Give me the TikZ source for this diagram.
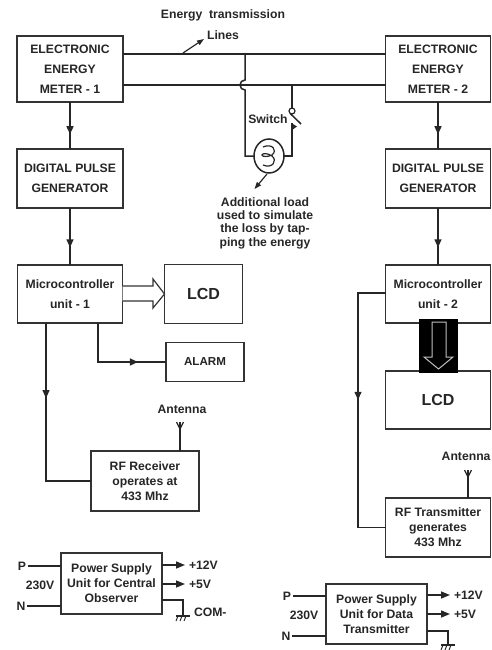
\documentclass[tikz,border=0pt]{standalone}
\usepackage{fontspec}
\setmainfont{Liberation Sans}
\usetikzlibrary{positioning, shapes.geometric, arrows.meta, calc, decorations.markings}

\begin{document}
\begin{tikzpicture}[
  x=1pt, y=1pt,
  font=\fontsize{12.2}{20}\selectfont\bfseries,
  node distance=47pt and 43pt,
  blockbox/.style={
    rectangle, draw=black!80, line width=1.5pt, outer sep=0pt, inner sep=0pt,
    minimum width=105pt, minimum height=59pt, align=center, fill=white, text=black!85
  },
  tightbox/.style={blockbox, font=\fontsize{12.2}{15}\selectfont\bfseries},
  label/.style={inner sep=0pt, outer sep=0pt, text=black!85, align=center},
  notetext/.style={label, font=\fontsize{12.2}{13.4}\selectfont\bfseries},
  wire/.style={draw=black!85, line width=1.5pt},
  tipat/.style={postaction={decorate, decoration={markings,
    mark=at position #1 with {\fill[black!85] (4,0) -- (-4,3.7) -- (-4,-3.7) -- cycle;}}}},
  outwire/.style={wire, -{Triangle[length=9pt,width=7pt]}, shorten >=4pt},
  hollow/.style={draw=black!80, line width=1.2pt, fill=white, line join=miter},
  antenna/.pic={
    \draw[wire] (0,0) -- (0,7);
    \draw[wire, line width=1.2pt] (-3.5,7) -- (0,0) -- (3.5,7);
  },
  earth/.pic={
    \draw[wire, line width=1.2pt] (-7,0) -- (7,0);
    \foreach \dx in {-5,-1,3} {
      \draw[wire, line width=1pt] (\dx,0) -- (\dx-2,-5);
    }
  }
]
\useasboundingbox (0,0) rectangle (491,-650);

% left column
\node[blockbox, minimum height=66pt, minimum width=106pt] (meterone) at (70,-69) {ELECTRONIC\\ ENERGY\\ METER - 1};
\node[blockbox, minimum width=106pt, below=47pt of meterone] (pulseone) {DIGITAL PULSE\\ GENERATOR};
\node[blockbox, minimum height=58pt, below=57pt of pulseone] (mcuone) {Microcontroller\\ unit - 1};
\node[blockbox, minimum width=78pt, font=\fontsize{16}{18}\selectfont\bfseries, right=42pt of mcuone] (lcdone) {LCD};
\node[blockbox, minimum width=78pt, minimum height=39pt, font=\fontsize{11.6}{14}\selectfont\bfseries] (alarm) at (205,-362) {ALARM};
\node[tightbox, minimum width=108pt, minimum height=60pt] (rxbox) at (145,-481) {RF Receiver\\ operates at\\ 433 Mhz};
\node[tightbox, minimum width=101pt, minimum height=61pt] (supplyone) at (111.5,-583.5) {Power Supply\\ Unit for Central\\ Observer};

% right column
\node[blockbox, minimum height=66pt, minimum width=105pt] (metertwo) at (438,-69) {ELECTRONIC\\ ENERGY\\ METER - 2};
\node[blockbox, below=47pt of metertwo] (pulsetwo) {DIGITAL PULSE\\ GENERATOR};
\node[blockbox, minimum height=58pt, below=57pt of pulsetwo] (mcutwo) {Microcontroller\\ unit - 2};
\node[blockbox, minimum height=58pt, font=\fontsize{16}{18}\selectfont\bfseries, below=48pt of mcutwo] (lcdtwo) {LCD};
\node[tightbox, minimum height=59pt] (txbox) at (438,-527.5) {RF Transmitter\\ generates\\ 433 Mhz};
\node[tightbox, minimum width=101pt, minimum height=60pt] (supplytwo) at (376.5,-614) {Power Supply\\ Unit for Data\\ Transmitter};

% transmission lines and load
\draw[wire] (meterone.east |- 0,-54) -- (metertwo.west |- 0,-54);
\draw[wire] (meterone.east |- 0,-85) -- (metertwo.west |- 0,-85);
\node[label] (energy) at (223,-15) {Energy\ \ transmission};
\node[label] (lines) at (223,-35) {Lines};
\coordinate (linetail) at (183,-53);
\coordinate (linetip) at (204,-39);
\draw[wire, line width=1.2pt, -{Triangle[length=7pt,width=5pt]}] (linetail) -- (linetip);

\node[ellipse, draw=black!85, line width=1.5pt, minimum width=30pt, minimum height=34pt, inner sep=0pt, outer sep=0pt] (lamp) at (269,-156) {};
\draw[wire, line width=1.2pt] (263,-147) .. controls (272,-143) and (278,-150) .. (272,-155)
  .. controls (268,-157) and (262,-157) .. (262,-155)
  .. controls (262,-153) and (268,-153) .. (272,-156)
  .. controls (278,-161) and (272,-169) .. (263,-165);
\coordinate (hoptop) at (245,-54);
\draw[wire] (hoptop) -- (245,-80) arc[start angle=90, end angle=270, radius=5] |- (lamp.west);

\node[circle, draw=black!85, line width=1.2pt, minimum size=6pt, inner sep=0pt, outer sep=0pt] (switchpin) at (292,-111) {};
\coordinate (switchtop) at (292,-85);
\coordinate (switchfoot) at (292,-123.5);
\draw[wire] (switchtop) -- (switchpin.north);
\draw[wire] (switchfoot) |- (lamp.east);
\draw[wire] (switchpin.south west) ++(0.5,-0.5) -- (301,-124);
\fill[black!85] (switchfoot) -- (297,-126.5) -- (292,-130) -- cycle;
\node[label] (switchtext) at (268,-119) {Switch};

\node[notetext] (loadnote) at (265,-223) {Additional load\\ used to simulate\\ the loss by tap-\\ ping the energy};
\coordinate (loadtip) at (254.5,-189);
\draw[wire, line width=1.2pt, -{Triangle[length=7pt,width=5pt]}] (lamp.south) ++(-2,-1) -- (loadtip);

% left signal path
\draw[wire, tipat=0.6] (meterone.south) -- (pulseone.north);
\draw[wire, tipat=0.62] (pulseone.south) -- (mcuone.north);
\draw[hollow] (mcuone.east |- 0,-286) -- (153,-286) -- (153,-279) -- (lcdone.west) -- (153,-308) -- (153,-301) -- (mcuone.east |- 0,-301);
\draw[wire, tipat=0.7] (mcuone.south -| 98,0) |- (alarm.west);
\draw[wire, tipat=0.35] (mcuone.south -| 46,0) |- (rxbox.west);
\node[label] (antone) at (182,-409) {Antenna};
\draw[wire] (rxbox.north -| 180,0) -- ++(0,22);
\pic at (180,-429) {antenna};

% right signal path
\draw[wire, tipat=0.6] (metertwo.south) -- (pulsetwo.north);
\draw[wire, tipat=0.62] (pulsetwo.south) -- (mcutwo.north);
\node[fill=black, minimum width=39pt, minimum height=54pt, inner sep=0pt, outer sep=0pt] (dropbox) at (438.5,-346) {};
\draw[draw=black!25, line width=1pt, line join=miter] (432,-322) -- (432,-357) -- (424,-357) -- (438.5,-369) -- (453,-357) -- (446,-357) -- (446,-322) -- cycle;
\coordinate (sidedrop) at (358,-293);
\draw[wire, tipat=0.45] (mcutwo.west |- sidedrop) -- (sidedrop) |- (txbox.west);
\node[label, anchor=east] (anttwo) at (490.5,-456) {Antenna};
\draw[wire] (txbox.north -| 468,0) -- ++(0,21);
\pic at (468,-477) {antenna};

% power supply one
\node[label] (pone) at (22,-566) {P};
\node[label] (none) at (21,-606) {N};
\node[label] (mainsone) at (40,-585) {230V};
\draw[wire] (pone.east) ++(2,0) -- (pone.east -| supplyone.west);
\draw[wire] (none.east) ++(2,0) -- (none.east -| supplyone.west);
\node[label, anchor=west] (plusone) at (189,-565) {+12V};
\node[label, anchor=west] (fiveone) at (189,-584) {+5V};
\draw[outwire] (plusone.west -| supplyone.east) -- (plusone.west);
\draw[outwire] (fiveone.west -| supplyone.east) -- (fiveone.west);
\node[label, anchor=west] (comone) at (194,-612) {COM-};
\coordinate (earthone) at (183,-616);
\draw[wire] (supplyone.east |- 0,-600) -| (earthone);
\pic at (earthone) {earth};

% power supply two
\node[label] (ptwo) at (287,-596) {P};
\node[label] (ntwo) at (286,-636) {N};
\node[label] (mainstwo) at (304,-615) {230V};
\draw[wire] (ptwo.east) ++(2,0) -- (ptwo.east -| supplytwo.west);
\draw[wire] (ntwo.east) ++(2,0) -- (ntwo.east -| supplytwo.west);
\node[label, anchor=west] (plustwo) at (454,-595) {+12V};
\node[label, anchor=west] (fivetwo) at (454,-614) {+5V};
\draw[outwire] (plustwo.west -| supplytwo.east) -- (plustwo.west);
\draw[outwire] (fivetwo.west -| supplytwo.east) -- (fivetwo.west);
\coordinate (earthtwo) at (448,-645);
\draw[wire] (supplytwo.east |- 0,-631) -| (earthtwo);
\pic at (earthtwo) {earth};
\end{tikzpicture}
\end{document}
